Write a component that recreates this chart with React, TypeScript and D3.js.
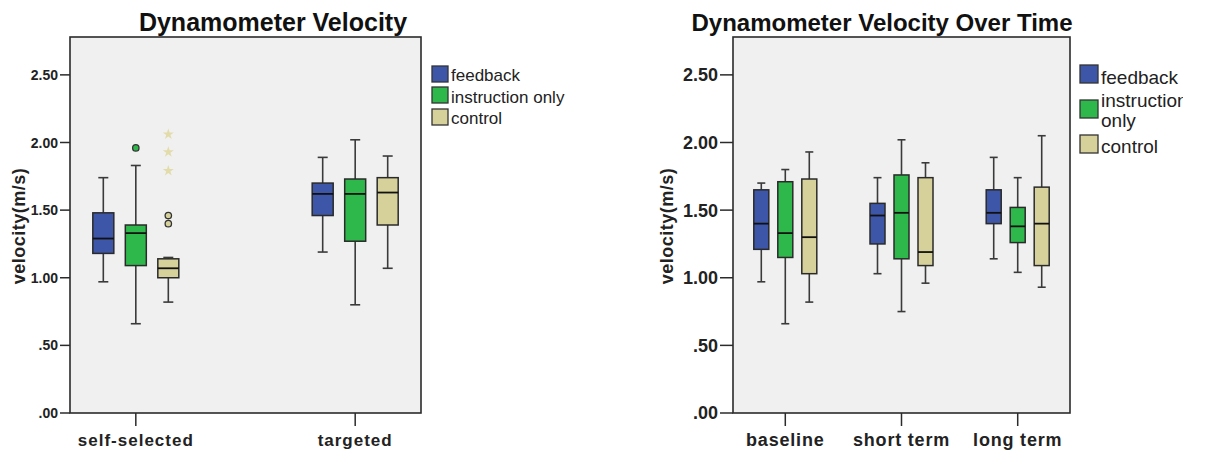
import React from 'react';
import * as d3 from 'd3';

// groups shown in both legends
const groups = ['feedback', 'instruction only', 'control'];
const groupColors = ['#3d56a8', '#2eb84b', '#d6d19b'];

// left chart: [whisker low, q1, median, q3, whisker high] per category
const leftCategories = ['self-selected', 'targeted'];
const leftFeedback = [
  [0.97, 1.18, 1.29, 1.48, 1.74],
  [1.19, 1.46, 1.62, 1.70, 1.89],
];
const leftInstruction = [
  [0.66, 1.09, 1.33, 1.39, 1.83],
  [0.80, 1.27, 1.62, 1.73, 2.02],
];
const leftControl = [
  [0.82, 1.00, 1.07, 1.14, 1.15],
  [1.07, 1.39, 1.63, 1.74, 1.90],
];
const leftOutliers = [
  { cat: 'self-selected', group: 'instruction only', value: 1.96, kind: 'circle' },
  { cat: 'self-selected', group: 'control', value: 1.46, kind: 'circle' },
  { cat: 'self-selected', group: 'control', value: 1.40, kind: 'circle' },
  { cat: 'self-selected', group: 'control', value: 2.06, kind: 'star' },
  { cat: 'self-selected', group: 'control', value: 1.93, kind: 'star' },
  { cat: 'self-selected', group: 'control', value: 1.79, kind: 'star' },
];

// right chart
const rightCategories = ['baseline', 'short term', 'long term'];
const rightFeedback = [
  [0.97, 1.21, 1.40, 1.65, 1.70],
  [1.03, 1.25, 1.46, 1.55, 1.74],
  [1.14, 1.40, 1.48, 1.65, 1.89],
];
const rightInstruction = [
  [0.66, 1.15, 1.33, 1.71, 1.80],
  [0.75, 1.14, 1.48, 1.76, 2.02],
  [1.04, 1.26, 1.38, 1.52, 1.74],
];
const rightControl = [
  [0.82, 1.03, 1.30, 1.73, 1.93],
  [0.96, 1.09, 1.19, 1.74, 1.85],
  [0.93, 1.09, 1.40, 1.67, 2.05],
];

const yTicks = [0, 0.5, 1, 1.5, 2, 2.5];
const fmt = (v) => (v === 0 ? '.00' : v < 1 ? d3.format('.2f')(v).replace(/^0/, '') : d3.format('.2f')(v));
const FONT = '"Liberation Sans", Arial, sans-serif';

const Panel = ({ cfg }) => {
  const y = d3.scaleLinear().domain([0, 2.78]).range([413, 37]);
  const x = d3.scalePoint().domain(cfg.categories).range([cfg.x0, cfg.x1]).padding(cfg.padding);
  const g = d3.scalePoint().domain(groups).range([-cfg.offset, cfg.offset]);
  const bw = cfg.boxWidth;
  const series = [cfg.feedback, cfg.instruction, cfg.control];
  const star = d3.symbol().type(d3.symbolStar).size(38)();
  const clipId = `clip-${cfg.id}`;

  return (
    <g>
      <rect x={cfg.x0} y={37} width={cfg.x1 - cfg.x0} height={376} fill="#f0f0f0" stroke="#2b2b2b" strokeWidth={1.6} />
      <text x={cfg.titleX} y={31} textAnchor="middle" fontFamily={FONT} fontWeight="bold" fontSize={cfg.titleFont} fill="#111">{cfg.title}</text>

      {yTicks.map((t) => (
        <g key={t}>
          <line x1={cfg.x0 - cfg.tickLen} x2={cfg.x0} y1={y(t)} y2={y(t)} stroke="#2b2b2b" strokeWidth={1.5} />
          <text x={cfg.x0 - cfg.tickLen - 2} y={y(t)} dy="0.36em" textAnchor="end" fontFamily={FONT} fontWeight="bold" fontSize={cfg.tickFont} fill="#222">{fmt(t)}</text>
        </g>
      ))}
      <text transform={`translate(${cfg.yLabelX},226) rotate(-90)`} textAnchor="middle" fontFamily={FONT} fontWeight="bold" fontSize={cfg.yLabelFont} letterSpacing={0.5} fill="#222">velocity(m/s)</text>

      {cfg.categories.map((c) => (
        <g key={c}>
          <line x1={x(c)} x2={x(c)} y1={413} y2={426} stroke="#2b2b2b" strokeWidth={1.5} />
          <text x={x(c)} y={446} textAnchor="middle" fontFamily={FONT} fontWeight="bold" fontSize={cfg.xFont} letterSpacing={cfg.xSpacing} fill="#222">{c}</text>
        </g>
      ))}

      {cfg.categories.map((c, ci) =>
        groups.map((gr, gi) => {
          const [lo, q1, med, q3, hi] = series[gi][ci];
          const cx = x(c) + g(gr);
          return (
            <g key={c + gr}>
              <line x1={cx} x2={cx} y1={y(hi)} y2={y(q3)} stroke="#3a3a3a" strokeWidth={1.6} />
              <line x1={cx} x2={cx} y1={y(q1)} y2={y(lo)} stroke="#3a3a3a" strokeWidth={1.6} />
              <line x1={cx - cfg.cap} x2={cx + cfg.cap} y1={y(hi)} y2={y(hi)} stroke="#3a3a3a" strokeWidth={1.6} />
              <line x1={cx - cfg.cap} x2={cx + cfg.cap} y1={y(lo)} y2={y(lo)} stroke="#3a3a3a" strokeWidth={1.6} />
              <rect x={cx - bw / 2} y={y(q3)} width={bw} height={y(q1) - y(q3)} fill={groupColors[gi]} stroke="#2a2a2a" strokeWidth={1.5} />
              <line x1={cx - bw / 2} x2={cx + bw / 2} y1={y(med)} y2={y(med)} stroke="#111" strokeWidth={1.8} />
            </g>
          );
        })
      )}

      {cfg.outliers.map((o, i) => {
        const cx = x(o.cat) + g(o.group);
        const col = groupColors[groups.indexOf(o.group)];
        return o.kind === 'circle' ? (
          <circle key={i} cx={cx} cy={y(o.value)} r={3.2} fill={col} stroke="#333" strokeWidth={1.3} />
        ) : (
          <path key={i} d={star} transform={`translate(${cx},${y(o.value)})`} fill="#e2dcaa" />
        );
      })}

      <defs>
        <clipPath id={clipId}>
          <rect x={cfg.legendX - 2} y={50} width={cfg.legendClip} height={120} />
        </clipPath>
      </defs>
      <g clipPath={`url(#${clipId})`}>
        {cfg.legend.map((row, i) => (
          <g key={i}>
            <rect x={cfg.legendX} y={row.sy} width={cfg.swW} height={cfg.swH} fill={groupColors[i]} stroke="#333" strokeWidth={1.3} />
            {row.lines.map((ln, j) => (
              <text key={j} x={cfg.legendX + cfg.swW + 3} y={row.ty + j * cfg.lineH} fontFamily={FONT} fontSize={cfg.legendFont} fill="#222">{ln}</text>
            ))}
          </g>
        ))}
      </g>
    </g>
  );
};

const leftCfg = {
  id: 'left',
  title: 'Dynamometer Velocity',
  titleX: 273,
  titleFont: 25,
  categories: leftCategories,
  feedback: leftFeedback,
  instruction: leftInstruction,
  control: leftControl,
  outliers: leftOutliers,
  x0: 70,
  x1: 421,
  padding: 0.3,
  offset: 32.5,
  boxWidth: 21,
  cap: 5,
  tickLen: 10,
  tickFont: 14,
  yLabelX: 25,
  yLabelFont: 18,
  xFont: 17,
  xSpacing: 1,
  legendX: 432,
  legendClip: 170,
  swW: 16,
  swH: 16,
  lineH: 20,
  legendFont: 17,
  legend: [
    { sy: 66, ty: 81, lines: [groups[0]] },
    { sy: 87, ty: 103, lines: [groups[1]] },
    { sy: 109, ty: 124, lines: [groups[2]] },
  ],
};

const rightCfg = {
  id: 'right',
  title: 'Dynamometer Velocity Over Time',
  titleX: 882,
  titleFont: 24,
  categories: rightCategories,
  feedback: rightFeedback,
  instruction: rightInstruction,
  control: rightControl,
  outliers: [],
  x0: 733,
  x1: 1070,
  padding: 0.45,
  offset: 24,
  boxWidth: 15,
  cap: 4,
  tickLen: 13,
  tickFont: 18,
  yLabelX: 673,
  yLabelFont: 18,
  xFont: 18,
  xSpacing: 0.8,
  legendX: 1080,
  legendClip: 105,
  swW: 18,
  swH: 18,
  lineH: 20,
  legendFont: 19,
  legend: [
    { sy: 65, ty: 84, lines: [groups[0]] },
    { sy: 100, ty: 107, lines: ['instruction', 'only'] },
    { sy: 135, ty: 153, lines: [groups[2]] },
  ],
};

export default function App() {
  return (
    <div style={{ position: 'absolute', left: 0, top: 0 }}>
      <svg width={1207} height={454} style={{ display: 'block', background: '#fff' }}>
        <Panel cfg={leftCfg} />
        <Panel cfg={rightCfg} />
      </svg>
    </div>
  );
}
